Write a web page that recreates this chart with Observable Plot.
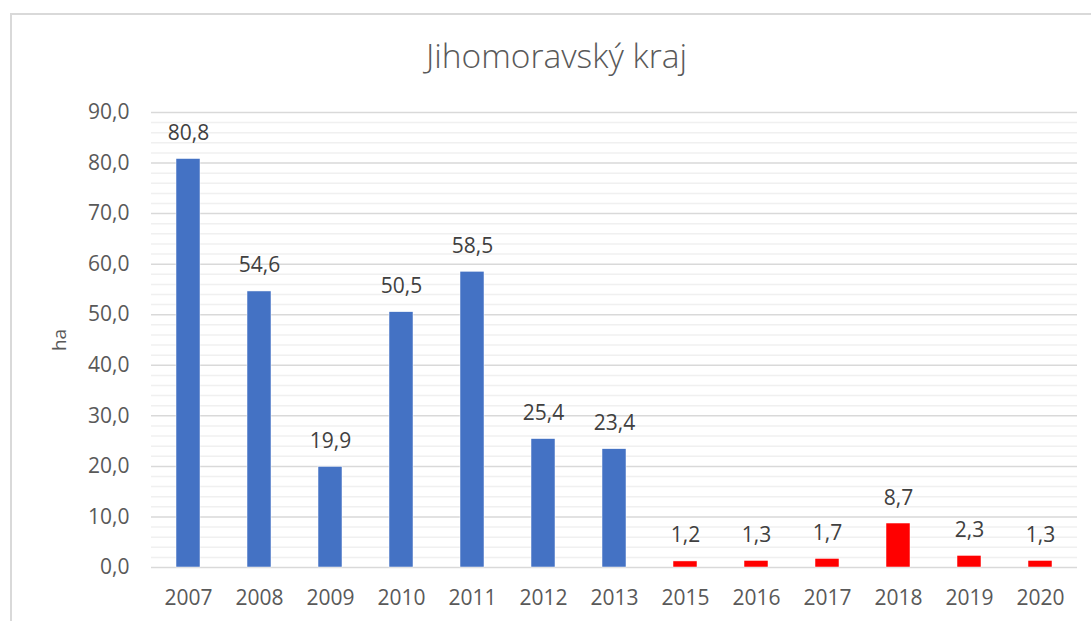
<!DOCTYPE html>
<html>
<head>
<meta charset="utf-8">
<script src="https://cdn.jsdelivr.net/npm/d3@7"></script>
<script src="https://cdn.jsdelivr.net/npm/@observablehq/plot@0.6"></script>
<style>
  html, body { margin: 0; padding: 0; background: #fff; }
  #wrap { position: relative; width: 1091px; height: 621px; overflow: hidden; font-family: "Open Sans", sans-serif; }
  #frame { position: absolute; left: 10px; top: 13px; width: 1200px; height: 700px; border-left: 2px solid #d9d9d9; border-top: 2px solid #d9d9d9; }
  #title { position: absolute; left: 0; top: 39px; width: 1113px; text-align: center; font-size: 33.5px; font-weight: 300; line-height: 1; color: #595959; }
  #chart { position: absolute; left: 0; top: 0; }
</style>
</head>
<body>
<div id="wrap">
  <div id="frame"></div>
  <div id="chart"></div>
  <div id="title">Jihomoravský kraj</div>
</div>
<script>
const years = ["2007","2008","2009","2010","2011","2012","2013","2015","2016","2017","2018","2019","2020"];
const values = [80.8, 54.6, 19.9, 50.5, 58.5, 25.4, 23.4, 1.2, 1.3, 1.7, 8.7, 2.3, 1.3];
const periods = ["do 2013","do 2013","do 2013","do 2013","do 2013","do 2013","do 2013","od 2015","od 2015","od 2015","od 2015","od 2015","od 2015"];
const majorTicks = [0, 10, 20, 30, 40, 50, 60, 70, 80, 90];
const minorTicks = d3.range(0, 91, 2).filter(v => v % 10 !== 0);
const yLabel = "ha";

const data = years.map((y, i) => ({year: y, value: values[i], period: periods[i]}));
const fmt = v => d3.format(".1f")(v).replace(".", ",");

const chart = Plot.plot({
  width: 1091,
  height: 621,
  marginLeft: 151,
  marginRight: 14,
  marginTop: 112,
  marginBottom: 54,
  style: { fontFamily: "Open Sans, sans-serif", fontSize: "21px", color: "#595959", background: "transparent" },
  x: { domain: years, paddingInner: 0.66, paddingOuter: 0.33, label: null },
  y: { domain: [0, 90], label: null },
  color: { domain: ["do 2013", "od 2015"], range: ["#4472C4", "#FF0000"] },
  marks: [
    Plot.ruleY(minorTicks, { stroke: "#f0f0f0", strokeWidth: 1.5 }),
    Plot.ruleY(majorTicks, { stroke: "#d9d9d9", strokeWidth: 1.5 }),
    Plot.barY(data, { x: "year", y: "value", fill: "period", stroke: "#ffffff", strokeWidth: 0.5 }),
    Plot.text(data, { x: "year", y: "value", text: d => fmt(d.value), lineAnchor: "bottom", dy: -19, fill: "#404040", fontSize: 21 }),
    Plot.axisY({ ticks: majorTicks, tickFormat: fmt, tickSize: 0, tickPadding: 22, label: null }),
    Plot.axisX({ tickSize: 0, tickPadding: 23, label: null }),
    Plot.text([yLabel], { frameAnchor: "left", text: d => d, rotate: -90, textAnchor: "middle", lineAnchor: "middle", dx: -92, fontSize: 19, fill: "#595959" })
  ]
});
document.getElementById("chart").appendChild(chart);
</script>
</body>
</html>
